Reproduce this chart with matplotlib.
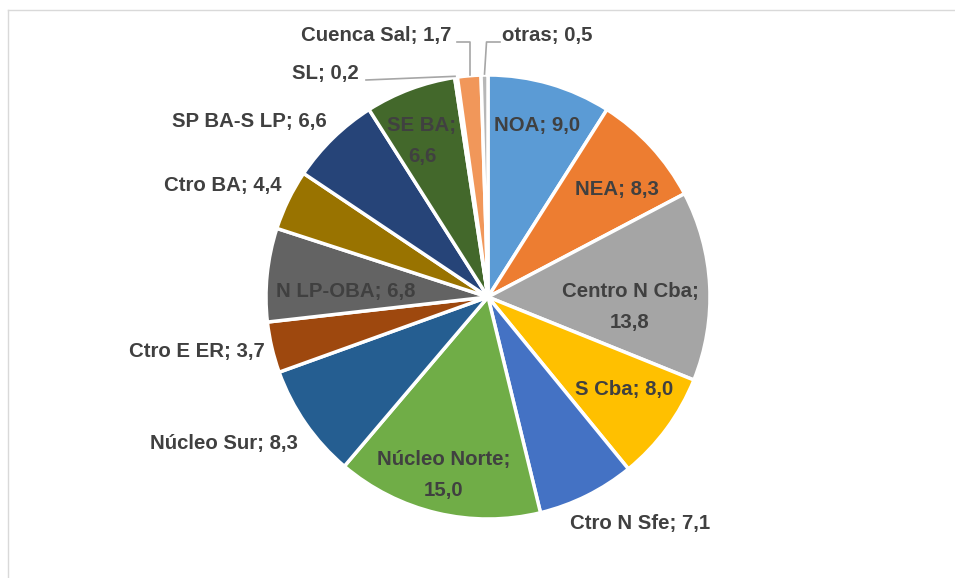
import numpy as np
import matplotlib
matplotlib.use("Agg")
import matplotlib.pyplot as plt

# data
regions = ["NOA", "NEA", "Centro N Cba", "S Cba", "Ctro N Sfe", "Núcleo Norte",
           "Núcleo Sur", "Ctro E ER", "N LP-OBA", "Ctro BA", "SP BA-S LP",
           "SE BA", "SL", "Cuenca Sal", "otras"]
values = [9.0, 8.3, 13.8, 8.0, 7.1, 15.0, 8.3, 3.7, 6.8, 4.4, 6.6, 6.6, 0.2, 1.7, 0.5]
colors = ["#5B9BD5", "#ED7D31", "#A5A5A5", "#FFC000", "#4472C4", "#70AD47",
          "#255E91", "#9E480E", "#636363", "#997300", "#264478", "#43682B",
          "#7CAFDD", "#F1975A", "#B7B7B7"]

# label layout (pixel coords in the image, y downwards) and alignment
label_pos = [(537, 126), (617, 190), (630, 307), (624, 390), (640, 523), (444, 475),
             (298, 443), (265, 351), (346, 292), (281, 186), (327, 122),
             (422, 141), (359, 74), (451, 36), (502, 36)]
label_ha = ["center", "center", "center", "center", "center", "center",
            "right", "right", "center", "right", "right",
            "center", "right", "right", "left"]
wrap = {"Centro N Cba", "Núcleo Norte", "SE BA"}

W, H = 955, 578
cx, cy, R = 488, 297, 222
txt_color = "#404040"
font = dict(family=["Liberation Sans", "DejaVu Sans"], fontsize=14.7, fontweight="bold")

fig = plt.figure(figsize=(W / 100, H / 100), dpi=100)
ax = fig.add_axes([0, 0, 1, 1])

wedges, _ = ax.pie(values, colors=colors, startangle=90, counterclock=False,
                   center=(cx, H - cy), radius=R,
                   wedgeprops=dict(edgecolor="white", linewidth=2.5))

# pie() resets the limits, so set them afterwards
ax.set_xlim(0, W)
ax.set_ylim(0, H)
ax.set_aspect("equal")
ax.axis("off")

# chart area border
ax.plot([8, W], [H - 10, H - 10], color="#D9D9D9", lw=1)
ax.plot([8, 8], [H - 10, 0], color="#D9D9D9", lw=1)

for i, name in enumerate(regions):
    val = ("%.1f" % values[i]).replace(".", ",")
    sep = ";\n" if name in wrap else "; "
    x, y = label_pos[i]
    ax.text(x, H - y, name + sep + val, ha=label_ha[i], va="center",
            color=txt_color, linespacing=1.75, **font)

# leader lines for the small slices
lead = "#A6A6A6"
for name in ["SL", "Cuenca Sal", "otras"]:
    i = regions.index(name)
    w = wedges[i]
    a = np.deg2rad((w.theta1 + w.theta2) / 2)
    ex, ey = cx + R * np.cos(a), (H - cy) + R * np.sin(a)
    x, y = label_pos[i]
    if name == "SL":
        ax.plot([x + 7, ex - 1], [H - y - 6, ey + 1], color=lead, lw=1.2)
    elif name == "Cuenca Sal":
        ax.plot([x + 6, ex + 1, ex + 1], [H - y - 6, H - y - 6, ey + 1], color=lead, lw=1.2)
    else:
        ax.plot([x - 2, ex + 2, ex], [H - y - 6, H - y - 6, ey + 1], color=lead, lw=1.2)

fig.savefig("out.png", dpi=100, facecolor="white")
